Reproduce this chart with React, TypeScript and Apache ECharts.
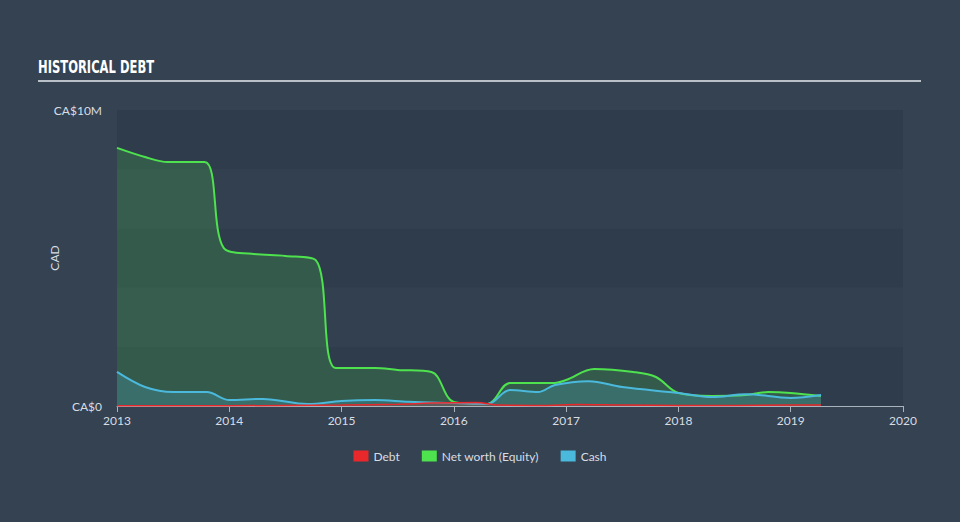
import React, { useEffect, useRef } from "react";
import * as echarts from "echarts";

const debtX = [2013.0, 2014.0, 2015.0, 2015.5, 2015.8, 2016.2, 2016.4, 2016.8, 2017.1, 2017.5, 2018.0, 2018.5, 2019.0, 2019.27];
const debtY = [0.01, 0.01, 0.03, 0.06, 0.1, 0.12, 0.03, 0.02, 0.05, 0.03, 0.02, 0.02, 0.03, 0.03];

const equityX = [2013.0, 2013.25, 2013.45, 2013.78, 2013.95, 2014.2, 2014.5, 2014.77, 2014.95, 2015.3, 2015.5, 2015.8, 2016.0, 2016.3, 2016.5, 2016.9, 2017.0, 2017.25, 2017.6, 2017.8, 2018.0, 2018.3, 2018.6, 2018.8, 2019.0, 2019.27];
const equityY = [8.72, 8.41, 8.24, 8.24, 5.34, 5.14, 5.07, 4.93, 1.28, 1.28, 1.22, 1.15, 0.14, 0.07, 0.78, 0.78, 0.88, 1.25, 1.15, 0.98, 0.44, 0.34, 0.37, 0.47, 0.44, 0.34];

const cashX = [2013.0, 2013.25, 2013.5, 2013.8, 2014.0, 2014.3, 2014.7, 2015.0, 2015.3, 2015.6, 2016.0, 2016.3, 2016.5, 2016.75, 2016.9, 2017.2, 2017.5, 2018.0, 2018.3, 2018.6, 2019.0, 2019.27];
const cashY = [1.15, 0.64, 0.47, 0.47, 0.2, 0.24, 0.07, 0.17, 0.2, 0.14, 0.1, 0.07, 0.54, 0.47, 0.71, 0.84, 0.64, 0.44, 0.3, 0.4, 0.27, 0.37];

const yTicks = ["CA$0", "CA$10M"];
const legendNames = ["Debt", "Net worth (Equity)", "Cash"];

const toPairs = (xs: number[], ys: number[]) => xs.map((x, i) => [x, ys[i] * 1e6]);

export default function App() {
  const ref = useRef<HTMLDivElement>(null);
  useEffect(() => {
    if (!ref.current) return;
    const chart = echarts.init(ref.current, null, { renderer: "svg" });
    const font = "Lato, 'Open Sans', sans-serif";
    chart.setOption({
      animation: false,
      backgroundColor: "#344252",
      textStyle: { fontFamily: font },
      graphic: [
        {
          type: "text",
          left: 38,
          top: 59,
          scaleX: 0.68,
          style: {
            text: "HISTORICAL DEBT",
            fill: "#ffffff",
            fontSize: 17,
            fontWeight: "bold",
            fontFamily: "'DejaVu Sans', sans-serif",
          },
        },
        {
          type: "line",
          shape: { x1: 38, y1: 81, x2: 921, y2: 81 },
          style: { stroke: "#b9c0c8", lineWidth: 2 },
        },
      ],
      legend: {
        data: legendNames,
        bottom: 55,
        left: "center",
        itemWidth: 15,
        itemHeight: 11,
        itemGap: 22,
        icon: "rect",
        textStyle: { color: "#d8dde2", fontSize: 12, fontFamily: font },
      },
      grid: { left: 117, right: 57, top: 110, bottom: 116 },
      xAxis: {
        type: "value",
        min: 2013,
        max: 2020,
        interval: 1,
        axisLine: { show: true, lineStyle: { color: "#aab2bb", width: 1 } },
        axisTick: { show: true, length: 6, lineStyle: { color: "#aab2bb" } },
        splitLine: { show: false },
        axisLabel: {
          color: "#d8dde2",
          fontSize: 12,
          fontFamily: font,
          formatter: (v: number) => String(Math.round(v)),
        },
      },
      yAxis: {
        type: "value",
        min: 0,
        max: 10e6,
        interval: 2e6,
        name: "CAD",
        nameLocation: "middle",
        nameGap: 57,
        nameMoveOverlap: false,
        nameTextStyle: { color: "#d8dde2", fontSize: 12, fontFamily: font },
        axisLine: { show: false },
        axisTick: { show: false },
        splitLine: { show: false },
        splitArea: { show: true, areaStyle: { color: ["#2f3c4c", "#33404f"] } },
        axisLabel: {
          color: "#d8dde2",
          fontSize: 12,
          fontFamily: font,
          margin: 15,
          formatter: (v: number) => (v === 0 ? yTicks[0] : v === 10e6 ? yTicks[1] : ""),
        },
      },
      series: [
        {
          name: "Net worth (Equity)",
          type: "line",
          smooth: 0.35,
          symbol: "none",
          data: toPairs(equityX, equityY),
          lineStyle: { color: "#4ee24e", width: 2 },
          itemStyle: { color: "#4ee24e" },
          areaStyle: { color: "rgba(78,226,78,0.26)" },
          z: 2,
        },
        {
          name: "Cash",
          type: "line",
          smooth: 0.35,
          symbol: "none",
          data: toPairs(cashX, cashY),
          lineStyle: { color: "#4ab9dc", width: 2 },
          itemStyle: { color: "#4ab9dc" },
          areaStyle: { color: "rgba(74,185,220,0.3)" },
          z: 3,
        },
        {
          name: "Debt",
          type: "line",
          smooth: 0.35,
          symbol: "none",
          data: toPairs(debtX, debtY),
          lineStyle: { color: "#e8282b", width: 1.5 },
          itemStyle: { color: "#e8282b" },
          areaStyle: { color: "rgba(232,40,43,0.3)" },
          z: 4,
        },
      ],
    });
    return () => chart.dispose();
  }, []);
  return <div ref={ref} style={{ width: 960, height: 522, position: "absolute", left: 0, top: 0 }} />;
}
